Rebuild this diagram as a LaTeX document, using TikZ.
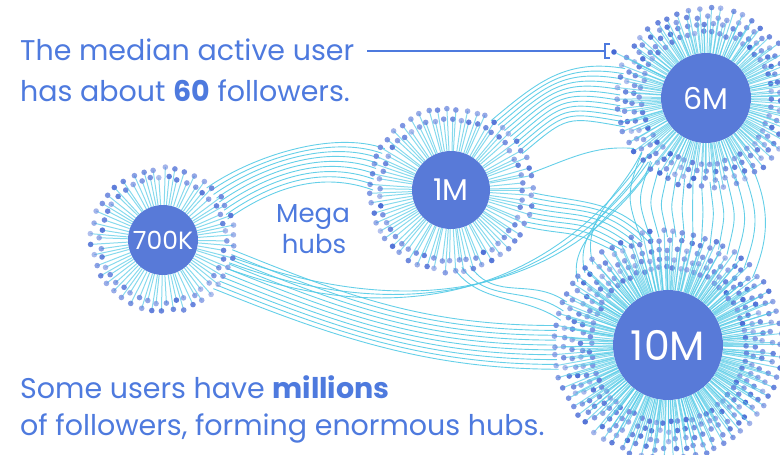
\documentclass[tikz,border=0pt]{standalone}
\usepackage{fontspec}
\setmainfont{Poppins}
\usetikzlibrary{calc}
\definecolor{txtblue}{RGB}{78,122,222}
\definecolor{hubblue}{RGB}{88,122,216}
\definecolor{cyanl}{RGB}{84,202,230}
\definecolor{dotdark}{RGB}{70,105,212}
\definecolor{dotlight}{RGB}{150,168,232}
\tikzset{
 hub/.style={circle, fill=hubblue, text=white, inner sep=0pt},
 spoke/.style={draw=cyanl, line width=1pt, opacity=0.7},
 link/.style={draw=cyanl, line width=0.9pt, opacity=0.9},
 lead/.style={draw=txtblue, line width=1.4pt},
 caption/.style={text=txtblue, font=\fontsize{28.5}{32}\selectfont, anchor=base west, inner sep=0pt},
 midcap/.style={text=txtblue, font=\fontsize{26}{30}\selectfont, anchor=base, inner sep=0pt},
 dotn/.style={circle, fill=dotdark, inner sep=0pt, minimum size=5.6pt},
}
\newcommand\hubspray[5]{%
  \pgfmathsetmacro\stp{360/#2}%
  \foreach \i in {1,...,#2}{%
    \pgfmathsetmacro\ang{\i*\stp+2*rnd}%
    \pgfmathsetmacro\rr{#3+#4*mod(\i,#5)+3*rnd}%
    \pgfmathsetmacro\op{0.55+0.45*rnd}%
    \pgfmathsetmacro\mx{int(30+70*rnd)}%
    \draw[spoke] (#1) -- ($(#1)+(\ang:\rr)$);
    \fill[dotdark!\mx!dotlight, opacity=\op] ($(#1)+(\ang:\rr)$) circle[radius=2.8];
  }}
\begin{document}
\begin{tikzpicture}[x=1pt,y=-1pt]
\useasboundingbox (0,0) rectangle (780,455);
\clip (0,0) rectangle (780,455);
\pgfmathsetseed{42}
% hubs
\node[hub, minimum size=70pt, font=\fontsize{25}{27}\selectfont] (h7) at (163,240) {700K};
\node[hub, minimum size=78pt, font=\fontsize{30}{32}\selectfont] (h1) at (451,190) {1M};
\node[hub, minimum size=90pt, font=\fontsize{30}{32}\selectfont] (h6) at (706,98) {6M};
\node[hub, minimum size=110pt, font=\fontsize{41}{43}\selectfont] (h10) at (668,345) {10M};
% A -> B
\foreach \i in {0,...,8}{
 \pgfmathsetmacro\a{-50+4*\i}\pgfmathsetmacro\b{212-4*\i}
 \draw[link] ($(h7)+(\a:68)$) .. controls +(-35:55) and +(200:55) .. ($(h1)+(\b:78)$);}
% B -> C
\foreach \i in {0,...,11}{
 \pgfmathsetmacro\a{-60+3*\i}\pgfmathsetmacro\b{200-3.6*\i}
 \draw[link] ($(h1)+(\a:80)$) .. controls +(-40:60) and +(190:60) .. ($(h6)+(\b:86)$);}
\draw[link] ($(h1)+(-12:82)$) .. controls +(-20:40) and +(185:40) .. ($(h6)+(145:88)$);
% A -> D
\foreach \i in {0,...,9}{
 \pgfmathsetmacro\a{8+4*\i}\pgfmathsetmacro\b{190-2.5*\i}
 \draw[link] ($(h7)+(\a:70)$) .. controls +(22:130) and +(180:130) .. ($(h10)+(\b:112)$);}
% A -> C
\foreach \i in {0,...,2}{
 \pgfmathsetmacro\a{14+5*\i}\pgfmathsetmacro\b{128+4*\i}
 \draw[link] ($(h7)+(\a:70)$) .. controls +(20:200) and +(125:150) .. ($(h6)+(\b:86)$);}
% B -> D
\foreach \i in {0,...,7}{
 \pgfmathsetmacro\a{2+3.5*\i}\pgfmathsetmacro\b{262-3*\i}\pgfmathsetmacro\c{228-3*\i}
 \draw[link] ($(h1)+(\a:82)$) .. controls +(12:50) and +(\c:55) .. ($(h10)+(\b:106)$);}
\foreach \i in {0,...,2}{
 \pgfmathsetmacro\a{88-6*\i}\pgfmathsetmacro\b{193+5*\i}
 \draw[link] ($(h1)+(\a:78)$) .. controls +(55:45) and +(215:45) .. ($(h10)+(\b:110)$);}
% C -> D
\foreach \i in {0,...,13}{
 \pgfmathsetmacro\xx{642+8.5*\i}
 \pgfmathsetmacro\a{acos((\xx-706)/84)}
 \pgfmathsetmacro\b{-acos((\xx-668)/108)}
 \pgfmathsetmacro\dx{(\xx-695)*0.3}
 \draw[link] ($(h6)+(\a:84)$) .. controls +(\dx,40) and +(\dx,-40) .. ($(h10)+(\b:108)$);}
\foreach \i in {0,...,2}{
 \pgfmathsetmacro\a{130+5*\i}\pgfmathsetmacro\b{215+6*\i}
 \draw[link] ($(h6)+(\a:84)$) .. controls +(115:50) and +(255:50) .. ($(h10)+(\b:110)$);}
% spokes and follower dots
\hubspray{h7}{84}{61}{9}{2}
\hubspray{h1}{104}{70}{10}{2}
\hubspray{h6}{200}{64}{8}{4}
\hubspray{h10}{330}{76}{9}{5}
% texts
\node[caption] (t1) at (20,60) {The median active user};
\node[caption] (t2) at (20,101) {has about \textbf{60} followers.};
\node[caption] (t3) at (20,398) {Some users have \textbf{millions}};
\node[caption] (t4) at (20,435) {of followers, forming enormous hubs.};
\node[midcap] (mg1) at (313,222) {Mega};
\node[midcap] (mg2) at (314,253) {hubs};
% median user leader
\node[dotn] (med) at (614,52) {};
\draw[spoke] (med) -- (h6);
\coordinate (ls) at (367,51);
\coordinate (brk) at (605,51);
\draw[lead] (ls) -- (brk);
\draw[lead] ($(brk)+(5,-7)$) -- ($(brk)+(0,-7)$) -- ($(brk)+(0,7)$) -- ($(brk)+(5,7)$);
\end{tikzpicture}
\end{document}
